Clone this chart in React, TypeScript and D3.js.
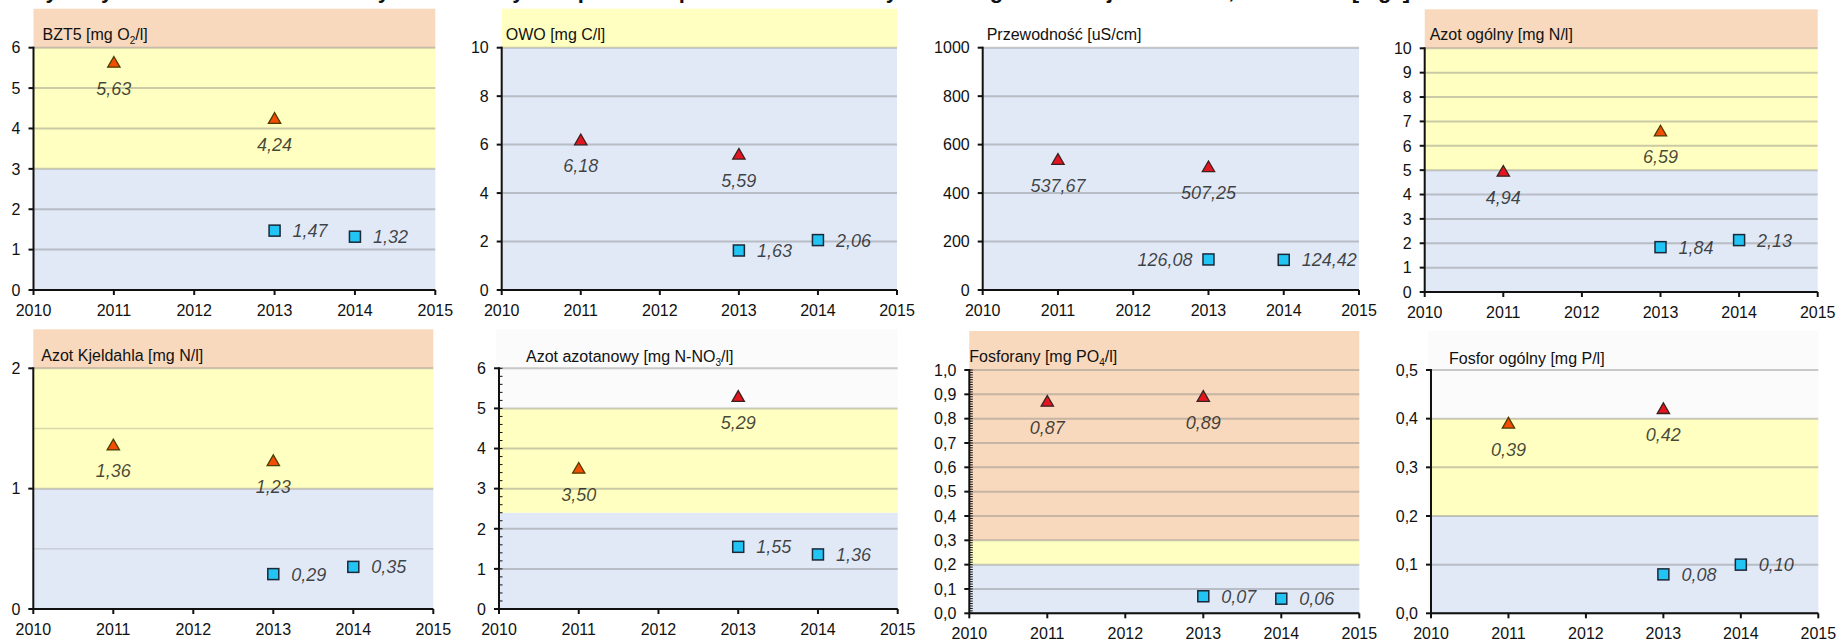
import React from "react";
import * as d3 from "d3";

// ---------- DATA ----------
const xTickYears = [2010, 2011, 2012, 2013, 2014, 2015];
const triangleYears = [2011, 2013];
const squareYears = [2013, 2014];

const bzt5Triangles = [5.63, 4.24];
const bzt5Squares = [1.47, 1.32];
const owoTriangles = [6.18, 5.59];
const owoSquares = [1.63, 2.06];
const przewodnoscTriangles = [537.67, 507.25];
const przewodnoscSquares = [126.08, 124.42];
const azotOgolnyTriangles = [4.94, 6.59];
const azotOgolnySquares = [1.84, 2.13];
const kjeldahlTriangles = [1.36, 1.23];
const kjeldahlSquares = [0.29, 0.35];
const azotanowyTriangles = [3.5, 5.29];
const azotanowySquares = [1.55, 1.36];
const fosforanyTriangles = [0.87, 0.89];
const fosforanySquares = [0.07, 0.06];
const fosforTriangles = [0.39, 0.42];
const fosforSquares = [0.08, 0.1];

// class limits: [blue upper limit, yellow upper limit]
const bzt5Limits = [3, 6];
const owoLimits = [10];
const przewodnoscLimits = [1000];
const azotOgolnyLimits = [5, 10];
const kjeldahlLimits = [1, 2];
const azotanowyLimits = [2.4, 5];
const fosforanyLimits = [0.2, 0.3];
const fosforLimits = [0.2, 0.4];

const pageTitle =
  "Rys. Wyniki badań wskaźników fizykochemicznych w punktach pomiarowo-kontrolnych na tle granic klas jakości wód, 2011–2014 [mg/l]";

// ---------- STYLE / LAYOUT ----------
const COLORS = {
  blue: "#e1e9f6",
  yellow: "#ffffc1",
  orange: "#f8d9bd",
  faint: "#fbfbfb",
};
const FONT = "'Liberation Sans', Arial, Helvetica, sans-serif";

type Panel = {
  title: { t: string; sub?: boolean }[];
  tri: number[];
  sq: number[];
  limits: number[];
  upperBand: "orange" | "yellow" | "none" | "faint";
  yMax: number;
  step: number;
  decimals: number;
  gridStep?: number;
  minorStep?: number;
  sqLabelLeft?: boolean[];
  box: [number, number, number, number]; // left, right, top, bottom
  titleDx: number;
  titleDy: number;
};

const panels: Panel[] = [
  {
    title: [{ t: "BZT5 [mg O" }, { t: "2", sub: true }, { t: "/l]" }],
    tri: bzt5Triangles, sq: bzt5Squares, limits: bzt5Limits, upperBand: "orange",
    yMax: 6, step: 1, decimals: 0,
    box: [33.5, 435.3, 47.7, 290], titleDx: 9, titleDy: -8,
  },
  {
    title: [{ t: "OWO [mg C/l]" }],
    tri: owoTriangles, sq: owoSquares, limits: owoLimits, upperBand: "yellow",
    yMax: 10, step: 2, decimals: 0,
    box: [501.7, 897, 47.7, 290], titleDx: 4, titleDy: -8,
  },
  {
    title: [{ t: "Przewodność [uS/cm]" }],
    tri: przewodnoscTriangles, sq: przewodnoscSquares, limits: przewodnoscLimits, upperBand: "none",
    yMax: 1000, step: 200, decimals: 0, sqLabelLeft: [true, false],
    box: [982.7, 1359, 47.7, 290], titleDx: 4, titleDy: -8,
  },
  {
    title: [{ t: "Azot ogólny [mg N/l]" }],
    tri: azotOgolnyTriangles, sq: azotOgolnySquares, limits: azotOgolnyLimits, upperBand: "orange",
    yMax: 10, step: 1, decimals: 0,
    box: [1424.7, 1817.7, 48.3, 292], titleDx: 5, titleDy: -8,
  },
  {
    title: [{ t: "Azot Kjeldahla [mg N/l]" }],
    tri: kjeldahlTriangles, sq: kjeldahlSquares, limits: kjeldahlLimits, upperBand: "orange",
    yMax: 2, step: 1, decimals: 0, gridStep: 0.5,
    box: [33.3, 433.3, 368.3, 609], titleDx: 8, titleDy: -7,
  },
  {
    title: [{ t: "Azot azotanowy [mg N-NO" }, { t: "3", sub: true }, { t: "/l]" }],
    tri: azotanowyTriangles, sq: azotanowySquares, limits: azotanowyLimits, upperBand: "faint",
    yMax: 6, step: 1, decimals: 0, minorStep: 0.2,
    box: [499, 897.7, 368.3, 609], titleDx: 27, titleDy: -6,
  },
  {
    title: [{ t: "Fosforany [mg PO" }, { t: "4", sub: true }, { t: "/l]" }],
    tri: fosforanyTriangles, sq: fosforanySquares, limits: fosforanyLimits, upperBand: "orange",
    yMax: 1, step: 0.1, decimals: 1, minorStep: 0.01,
    box: [969.3, 1359.3, 370, 613.3], titleDx: 0, titleDy: -8,
  },
  {
    title: [{ t: "Fosfor ogólny [mg P/l]" }],
    tri: fosforTriangles, sq: fosforSquares, limits: fosforLimits, upperBand: "faint",
    yMax: 0.5, step: 0.1, decimals: 1,
    box: [1431, 1818.3, 370, 613.3], titleDx: 18, titleDy: -6,
  },
];

const fmt = (v: number, d: number) => v.toFixed(d).replace(".", ",");

function zoneOf(p: Panel, v: number): string {
  if (v <= p.limits[0]) return "blue";
  if (p.limits.length > 1 && v <= p.limits[1]) return "yellow";
  return p.upperBand;
}

function ChartPanel({ p }: { p: Panel }) {
  const [left, right, top, bottom] = p.box;
  const x = d3.scaleLinear().domain([2010, 2015]).range([left, right]);
  const y = d3.scaleLinear().domain([0, p.yMax]).range([bottom, top]);
  const bandTop = top - 39;
  const ticks = d3.range(0, p.yMax + p.step / 2, p.step);
  const grid = p.gridStep ? d3.range(0, p.yMax + p.gridStep / 2, p.gridStep) : ticks;
  const minors = p.minorStep ? d3.range(0, p.yMax + p.minorStep / 2, p.minorStep) : [];

  const bands: { y0: number; y1: number; color: string }[] = [];
  bands.push({ y0: y(0), y1: y(p.limits[0]), color: COLORS.blue });
  if (p.limits.length > 1) {
    bands.push({ y0: y(p.limits[0]), y1: y(p.limits[1]), color: COLORS.yellow });
  }
  const upperStart = y(p.limits[p.limits.length - 1]);
  if (p.upperBand === "orange") bands.push({ y0: upperStart, y1: bandTop, color: COLORS.orange });
  if (p.upperBand === "yellow") bands.push({ y0: upperStart, y1: bandTop, color: COLORS.yellow });

  const triSymbol = d3.symbol().type(d3.symbolTriangle).size(66)();

  return (
    <g>
      {p.upperBand === "faint" && (
        <rect x={left - 3} y={bandTop} width={right - left + 3} height={bottom - bandTop} fill={COLORS.faint} />
      )}
      {bands.map((b, i) => (
        <rect key={i} x={left} y={b.y1} width={right - left} height={b.y0 - b.y1} fill={b.color} />
      ))}
      {grid.map((g, i) => {
        const major = Math.abs(g / p.step - Math.round(g / p.step)) < 1e-6;
        return (
          <line
            key={"g" + i}
            x1={left}
            x2={right}
            y1={y(g)}
            y2={y(g)}
            stroke="#808080"
            strokeOpacity={major ? 0.42 : 0.3}
            strokeWidth={major ? 2 : 1.4}
          />
        );
      })}
      <line x1={left} x2={left} y1={top - 1} y2={bottom} stroke="#111" strokeWidth={2} />
      <line x1={left} x2={right} y1={bottom} y2={bottom} stroke="#111" strokeWidth={2} />
      {minors.map((m, i) => (
        <line key={"m" + i} x1={left} x2={left + 3.5} y1={y(m)} y2={y(m)} stroke="#111" strokeWidth={1} />
      ))}
      {ticks.map((t, i) => (
        <g key={"yt" + i}>
          <line x1={left - 5} x2={left} y1={y(t)} y2={y(t)} stroke="#111" strokeWidth={2} />
          <text
            x={left - 13}
            y={y(t)}
            dy="0.36em"
            textAnchor="end"
            fontSize={16}
            fontFamily={FONT}
            fill="#111"
          >
            {fmt(t, p.decimals)}
          </text>
        </g>
      ))}
      {xTickYears.map((yr) => (
        <g key={"xt" + yr}>
          <line x1={x(yr)} x2={x(yr)} y1={bottom} y2={bottom + 5} stroke="#111" strokeWidth={2} />
          <text x={x(yr)} y={bottom + 26} textAnchor="middle" fontSize={16} fontFamily={FONT} fill="#111">
            {yr}
          </text>
        </g>
      ))}
      <text x={left + p.titleDx} y={top + p.titleDy} fontSize={16} fontFamily={FONT} fill="#111">
        {p.title.map((s, i) =>
          s.sub ? (
            <tspan key={i} fontSize={10} dy={4}>
              {s.t}
            </tspan>
          ) : (
            <tspan key={i} dy={i > 0 && p.title[i - 1].sub ? -4 : 0}>
              {s.t}
            </tspan>
          )
        )}
      </text>
      {p.tri.map((v, i) => {
        const cx = x(triangleYears[i]);
        const cy = y(v);
        const inYellow = zoneOf(p, v) === "yellow";
        return (
          <g key={"tri" + i}>
            <path
              d={triSymbol as string}
              transform={`translate(${cx},${cy + 1})`}
              fill={inYellow ? "#f24d00" : "#e3151e"}
              stroke={inYellow ? "#4d3d00" : "#3a2222"}
              strokeWidth={1.3}
            />
            <text
              x={cx}
              y={cy + 32}
              textAnchor="middle"
              fontSize={18}
              fontStyle="italic"
              fontFamily={FONT}
              fill="#000"
              fillOpacity={0.72}
            >
              {fmt(v, 2)}
            </text>
          </g>
        );
      })}
      {p.sq.map((v, i) => {
        const cx = x(squareYears[i]);
        const cy = y(v);
        const leftSide = p.sqLabelLeft ? p.sqLabelLeft[i] : false;
        return (
          <g key={"sq" + i}>
            <rect x={cx - 5.5} y={cy - 5.5} width={11} height={11} fill="#22c4f3" stroke="#1b2838" strokeWidth={1.5} />
            <text
              x={leftSide ? cx - 16 : cx + 18}
              y={cy + 6.5}
              textAnchor={leftSide ? "end" : "start"}
              fontSize={18}
              fontStyle="italic"
              fontFamily={FONT}
              fill="#000"
              fillOpacity={0.72}
            >
              {fmt(v, 2)}
            </text>
          </g>
        );
      })}
    </g>
  );
}

export default function App() {
  return (
    <svg
      width={1841}
      height={640}
      style={{ position: "absolute", left: 0, top: 0, background: "#fff" }}
    >
      <rect x={0} y={0} width={1841} height={640} fill="#fff" />
      <text
        x={30}
        y={-2}
        fontSize={22}
        fontWeight="bold"
        fontFamily={FONT}
        fill="#111"
        textLength={1380}
        lengthAdjust="spacing"
      >
        {pageTitle}
      </text>
      {panels.map((p, i) => (
        <ChartPanel key={i} p={p} />
      ))}
    </svg>
  );
}
